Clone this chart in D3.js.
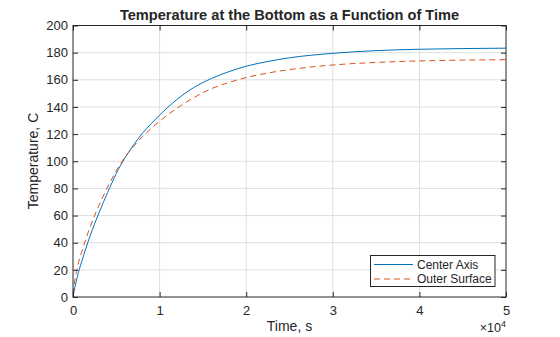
<!DOCTYPE html>
<html>
<head>
<meta charset="utf-8">
<script src="https://cdn.jsdelivr.net/npm/d3@7"></script>
<style>
  body { margin: 0; background: #fff; }
  text { font-family: "Liberation Sans", Arial, Helvetica, sans-serif; fill: #262626; }
</style>
</head>
<body>
<svg id="chart" width="560" height="337"></svg>
<script>
// ---- data ----
const timeS = [0, 250, 500, 1000, 1500, 2000, 2500, 3000, 4000, 5000, 6000, 7000, 8000, 9000, 10000,
               12000, 14000, 16000, 18000, 20000, 22500, 25000, 30000, 35000, 40000, 45000, 50000];
const centerAxis = [0, 8, 15, 26, 36, 45.5, 54, 62, 77, 91, 102.5, 112, 120.5, 127.5, 134,
                    145.5, 154.5, 161, 166, 170, 173.5, 176.2, 179.5, 181.5, 182.5, 183, 183.3];
const outerSurface = [2, 14, 22, 33, 43, 52, 60, 67.5, 81, 93, 103, 111, 118, 124, 129.5,
                      139, 147, 153.5, 158, 161.7, 165, 167.5, 170.9, 172.8, 173.9, 174.5, 174.8];
const xTicks = [0, 1, 2, 3, 4, 5];          // ×10^4
const yTicks = [0, 20, 40, 60, 80, 100, 120, 140, 160, 180, 200];
const seriesNames = ["Center Axis", "Outer Surface"];
const seriesColors = ["#0072BD", "#D95319"];

// ---- layout ----
const svg = d3.select("#chart");
const L = 73, R = 506, T = 25.5, B = 297;
const x = d3.scaleLinear().domain([0, 50000]).range([L, R]);
const y = d3.scaleLinear().domain([0, 200]).range([B, T]);
const axisCol = "#262626";

// grid
const g = svg.append("g");
g.selectAll(".gx").data(xTicks.slice(1, -1)).enter().append("line")
  .attr("x1", d => x(d * 1e4)).attr("x2", d => x(d * 1e4))
  .attr("y1", T).attr("y2", B).attr("stroke", "#dfdfdf").attr("stroke-width", 1);
g.selectAll(".gy").data(yTicks.slice(1, -1)).enter().append("line")
  .attr("x1", L).attr("x2", R)
  .attr("y1", d => y(d)).attr("y2", d => y(d)).attr("stroke", "#dfdfdf").attr("stroke-width", 1);

// lines
const line = d3.line().x((d, i) => x(timeS[i])).y(d => y(d)).curve(d3.curveMonotoneX);
svg.append("path").datum(centerAxis).attr("d", line)
  .attr("fill", "none").attr("stroke", seriesColors[0]).attr("stroke-width", 1);
svg.append("path").datum(outerSurface).attr("d", line)
  .attr("fill", "none").attr("stroke", seriesColors[1]).attr("stroke-width", 1)
  .attr("stroke-dasharray", "6,4");

// axes (inward ticks)
const fmtX = d => String(d / 1e4);
const xAxisB = d3.axisBottom(x).tickValues(xTicks.map(v => v * 1e4)).tickFormat(fmtX).tickSize(-5).tickPadding(9);
const xAxisT = d3.axisTop(x).tickValues(xTicks.map(v => v * 1e4)).tickFormat("").tickSize(-5);
const yAxisL = d3.axisLeft(y).tickValues(yTicks).tickSize(-5).tickPadding(5);
const yAxisR = d3.axisRight(y).tickValues(yTicks).tickFormat("").tickSize(-5);

function style(sel) {
  sel.select(".domain").remove();
  sel.selectAll(".tick line").attr("stroke", axisCol);
  sel.selectAll(".tick text").style("font-size", "13px").attr("fill", axisCol)
     .style("font-family", "'Liberation Sans', Arial, sans-serif");
}
svg.append("g").attr("transform", `translate(0,${B})`).call(xAxisB).call(style);
svg.append("g").attr("transform", `translate(0,${T})`).call(xAxisT).call(style);
svg.append("g").attr("transform", `translate(${L},0)`).call(yAxisL).call(style);
svg.append("g").attr("transform", `translate(${R},0)`).call(yAxisR).call(style);

// box
svg.append("rect").attr("x", L).attr("y", T).attr("width", R - L).attr("height", B - T)
  .attr("fill", "none").attr("stroke", axisCol).attr("stroke-width", 1);

// exponent label
const ex = svg.append("text").attr("x", 506).attr("y", 332).attr("text-anchor", "end")
  .style("font-size", "12.5px");
ex.append("tspan").text("×10");
ex.append("tspan").attr("dy", -5).style("font-size", "9px").text("4");

// title & labels
svg.append("text").attr("x", 289.5).attr("y", 20).attr("text-anchor", "middle")
  .style("font-size", "14.6px").style("font-weight", "bold").attr("fill", "#000").text("Temperature at the Bottom as a Function of Time");
svg.append("text").attr("x", 289.5).attr("y", 331).attr("text-anchor", "middle")
  .style("font-size", "14px").text("Time, s");
svg.append("text").attr("transform", `translate(38,161) rotate(-90)`).attr("text-anchor", "middle")
  .style("font-size", "14px").text("Temperature, C");

// legend
const lg = svg.append("g");
lg.append("rect").attr("x", 370.5).attr("y", 255.5).attr("width", 124.5).attr("height", 31)
  .attr("fill", "#fff").attr("stroke", axisCol).attr("stroke-width", 1);
seriesNames.forEach((n, i) => {
  const yy = 264.5 + i * 14.5;
  lg.append("line").attr("x1", 374).attr("x2", 413).attr("y1", yy).attr("y2", yy)
    .attr("stroke", seriesColors[i]).attr("stroke-width", 1)
    .attr("stroke-dasharray", i === 1 ? "6,4" : null);
  lg.append("text").attr("x", 417).attr("y", yy + 4.3).style("font-size", "12px").text(n);
});
</script>
</body>
</html>
